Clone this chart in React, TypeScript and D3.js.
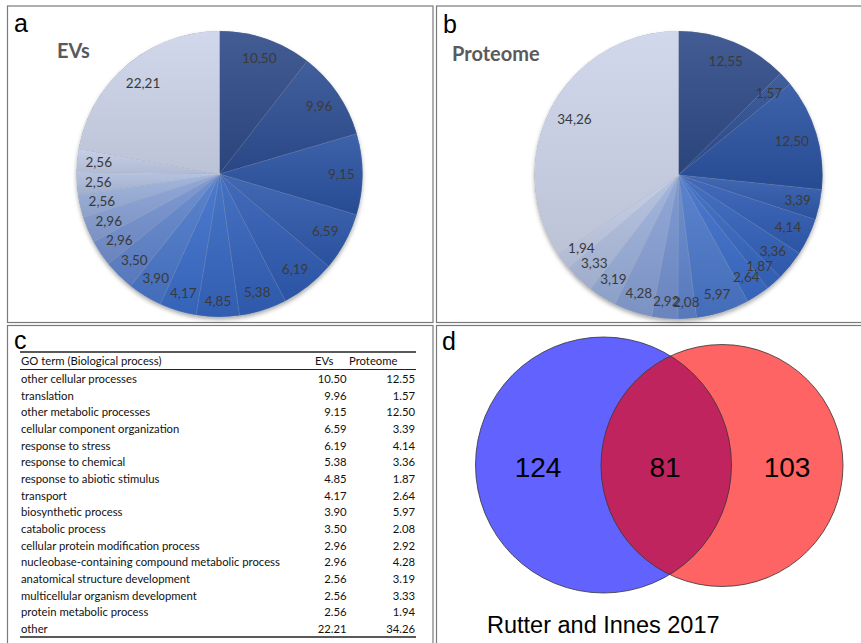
import React from "react";
import * as d3 from "d3";

const goTerms = [
  "other cellular processes",
  "translation",
  "other metabolic processes",
  "cellular component organization",
  "response to stress",
  "response to chemical",
  "response to abiotic stimulus",
  "transport",
  "biosynthetic process",
  "catabolic process",
  "cellular protein modification process",
  "nucleobase-containing compound metabolic process",
  "anatomical structure development",
  "multicellular organism development",
  "protein metabolic process",
  "other",
];
const evsValues = [10.5, 9.96, 9.15, 6.59, 6.19, 5.38, 4.85, 4.17, 3.9, 3.5, 2.96, 2.96, 2.56, 2.56, 2.56, 22.21];
const proteomeValues = [12.55, 1.57, 12.5, 3.39, 4.14, 3.36, 1.87, 2.64, 5.97, 2.08, 2.92, 4.28, 3.19, 3.33, 1.94, 34.26];
const sliceColors = [
  "#2e4a87", "#2d4d92", "#2a52a0", "#2e58ab", "#2f5bb3", "#3261ba", "#3566c0", "#3a6cc8",
  "#4a76c9", "#5f84cb", "#7390cf", "#869fd4", "#99aed9", "#aebdde", "#bfcae5", "#ccd4ea",
];
const tableHeaders = ["GO term (Biological process)", "EVs", "Proteome"];
const vennCounts = [124, 81, 103];
const vennCaption = "Rutter and Innes 2017";

const fmtComma = (v: number) => d3.format(".2f")(v).replace(".", ",");
const fmtDot = d3.format(".2f");

function Pie({ id, values, cx, cy, r, title, titleX, titleY }: any) {
  const pie = d3.pie<number>().sort(null).value((d) => d)(values);
  const arc = d3.arc<any>().innerRadius(0).outerRadius(r);
  return (
    <g>
      <defs>
        {pie.map((p, i) => {
          const c = sliceColors[i];
          return (
            <linearGradient key={i} id={`${id}-g${i}`} x1="0" y1="0" x2="0" y2="1">
              <stop offset="0" stopColor={d3.interpolateRgb(c, "#ffffff")(0.1)} />
              <stop offset="1" stopColor={d3.interpolateRgb(c, "#000000")(0.08)} />
            </linearGradient>
          );
        })}
        <filter id={`${id}-sh`} x="-20%" y="-20%" width="140%" height="140%">
          <feDropShadow dx="0" dy="2.5" stdDeviation="2.2" floodColor="#000" floodOpacity="0.35" />
        </filter>
      </defs>
      <g transform={`translate(${cx},${cy})`}>
        <circle r={r} fill="#888" filter={`url(#${id}-sh)`} />
        {pie.map((p, i) => (
          <path key={i} d={arc(p) as string} fill={`url(#${id}-g${i})`} stroke="#ffffff" strokeOpacity={0.12} strokeWidth={0.6} />
        ))}
        {pie.map((p, i) => {
          const t = (p.startAngle + p.endAngle) / 2;
          const label = fmtComma(p.data);
          const w = (label.length - 1) * 7.0 + 3.2;
          const h = 13;
          const rl = r - 9 - (Math.abs(Math.sin(t)) * w) / 2 - (Math.abs(Math.cos(t)) * h) / 2;
          return (
            <text
              key={i}
              x={rl * Math.sin(t)}
              y={-rl * Math.cos(t)}
              dy="0.35em"
              textAnchor="middle"
              fontFamily="Lato, 'Open Sans', sans-serif"
              fontSize={13.5}
              fill="#3a3a3a"
            >
              {label}
            </text>
          );
        })}
      </g>
      <text x={titleX} y={titleY} fontFamily="Lato, 'Open Sans', sans-serif" fontWeight="bold" fontSize={20} fill="#5a5a5a">
        {title}
      </text>
    </g>
  );
}

export default function App() {
  const rowY = d3.scaleLinear().domain([0, goTerms.length - 1]).range([379, 629]);
  const fontT = "Lato, 'Open Sans', sans-serif";
  const venn = [
    { cx: 603.5, cy: 465, r: 128, fill: "#6262ff" },
    { cx: 722, cy: 465.5, r: 121, fill: "#ff6464" },
  ];
  return (
    <svg width={861} height={643} style={{ position: "absolute", left: 0, top: 0, background: "#fff" }}>
      <rect x={0} y={0} width={861} height={643} fill="#fff" />
      {/* panel borders */}
      <g fill="none" stroke="#7a7a7a" strokeWidth={1.2}>
        <rect x={7.5} y={6} width={425.5} height={316.5} />
        <rect x={436.5} y={6} width={440} height={316.5} />
        <rect x={7.5} y={325.5} width={425.5} height={330} />
        <rect x={436.5} y={325.5} width={440} height={330} />
      </g>
      {/* panel letters */}
      <g fontFamily="'Liberation Sans', Arial, sans-serif" fontSize={25} fill="#000">
        <text x={14} y={32}>a</text>
        <text x={443} y={33}>b</text>
        <text x={14} y={349}>c</text>
        <text x={442} y={350}>d</text>
      </g>

      <Pie id="pa" values={evsValues} cx={219.5} cy={174} r={143} title="EVs" titleX={57} titleY={58} />
      <Pie id="pb" values={proteomeValues} cx={678.5} cy={175} r={144} title="Proteome" titleX={452} titleY={61} />

      {/* table */}
      <g fontFamily={fontT} fontSize={11.3} fill="#111">
        <line x1={20} x2={416} y1={352} y2={352} stroke="#222" strokeWidth={1.6} />
        <line x1={20} x2={416} y1={369.5} y2={369.5} stroke="#222" strokeWidth={1.2} />
        <line x1={20} x2={416} y1={637} y2={637} stroke="#222" strokeWidth={1.6} />
        <text x={21} y={365}>{tableHeaders[0]}</text>
        <text x={315} y={365}>{tableHeaders[1]}</text>
        <text x={349} y={365}>{tableHeaders[2]}</text>
        {goTerms.map((t, i) => (
          <g key={i}>
            <text x={21} y={rowY(i) + 4}>{t}</text>
            <text x={346.5} y={rowY(i) + 4} textAnchor="end">{fmtDot(evsValues[i])}</text>
            <text x={415} y={rowY(i) + 4} textAnchor="end">{fmtDot(proteomeValues[i])}</text>
          </g>
        ))}
      </g>

      {/* venn */}
      <defs>
        <clipPath id="vclip">
          <circle cx={venn[0].cx} cy={venn[0].cy} r={venn[0].r} />
        </clipPath>
      </defs>
      <circle cx={venn[0].cx} cy={venn[0].cy} r={venn[0].r} fill={venn[0].fill} />
      <circle cx={venn[1].cx} cy={venn[1].cy} r={venn[1].r} fill={venn[1].fill} />
      <circle cx={venn[1].cx} cy={venn[1].cy} r={venn[1].r} fill="#c0245f" clipPath="url(#vclip)" />
      <circle cx={venn[0].cx} cy={venn[0].cy} r={venn[0].r} fill="none" stroke="#333" strokeWidth={0.8} />
      <circle cx={venn[1].cx} cy={venn[1].cy} r={venn[1].r} fill="none" stroke="#333" strokeWidth={0.8} />
      <g fontFamily="'Liberation Sans', Arial, sans-serif" fontSize={28} fill="#000" textAnchor="middle">
        <text x={538} y={477}>{vennCounts[0]}</text>
        <text x={665} y={477}>{vennCounts[1]}</text>
        <text x={787} y={477}>{vennCounts[2]}</text>
      </g>
      <text x={487} y={633} fontFamily="'Liberation Sans', Arial, sans-serif" fontSize={23.5} fill="#000">
        {vennCaption}
      </text>
    </svg>
  );
}
